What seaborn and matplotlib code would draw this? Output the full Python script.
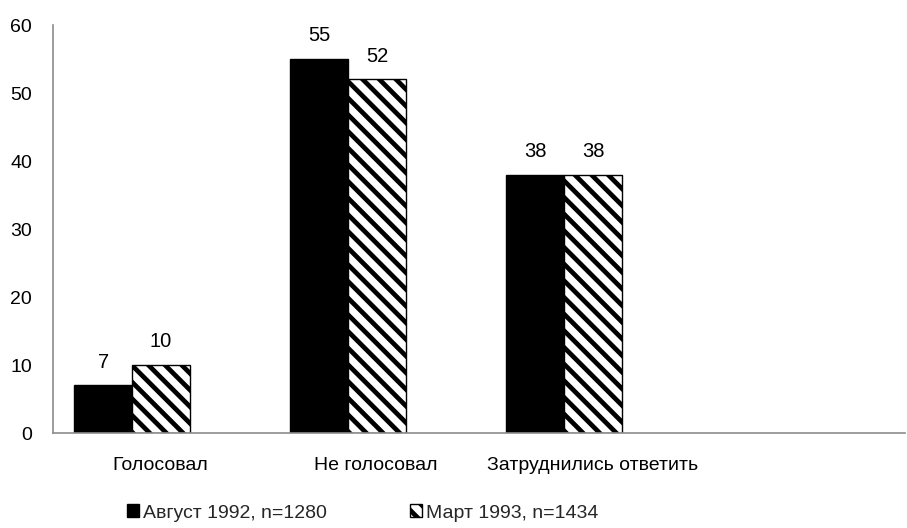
import matplotlib
matplotlib.use("Agg")
import matplotlib.pyplot as plt
import matplotlib.transforms as mtransforms
from matplotlib.patches import Patch
import seaborn as sns
import pandas as pd

# data
categories = ['Голосовал', 'Не голосовал', 'Затруднились ответить']
series = ['Август 1992, n=1280', 'Март 1993, n=1434']
aug_1992 = [7, 55, 38]
mar_1993 = [10, 52, 38]

df = pd.DataFrame({
    'cat': categories * 2,
    'series': [series[0]] * 3 + [series[1]] * 3,
    'value': aug_1992 + mar_1993,
})

sns.set_theme(style='white')
plt.rcParams['font.family'] = ['Liberation Sans', 'DejaVu Sans']
plt.rcParams['hatch.linewidth'] = 3.4
plt.rcParams['hatch.color'] = 'black'

fig = plt.figure(figsize=(9.07, 5.28), dpi=100)
ax = fig.add_axes([53 / 907, 95 / 528, 852 / 907, 408 / 528])

sns.barplot(data=df, x='cat', y='value', hue='series', order=categories,
            hue_order=series, palette=['black', 'white'], width=0.537,
            gap=0, edgecolor='black', linewidth=1, saturation=1,
            legend=False, ax=ax)

for bar in ax.containers[1]:
    bar.set_hatch('\\\\')

for cont in ax.containers:
    ax.bar_label(cont, fmt='%d', padding=10, fontsize=14.5, color='black')

ax.set_xlim(-0.366, 3.578)
ax.set_ylim(0, 60)
ax.set_yticks(range(0, 61, 10))
ax.set_xlabel('')
ax.set_ylabel('')
ax.tick_params(axis='both', length=0, labelsize=14, colors='black')
ax.tick_params(axis='y', pad=15)
ax.tick_params(axis='x', pad=17)

# category labels sit a bit right of the bar pairs
shift = mtransforms.ScaledTranslation(0.28, 0, fig.dpi_scale_trans)
for lbl in ax.get_xticklabels():
    lbl.set_transform(lbl.get_transform() + shift)

for side in ['top', 'right']:
    ax.spines[side].set_visible(False)
for side in ['left', 'bottom']:
    ax.spines[side].set_color('#8c8c8c')
    ax.spines[side].set_linewidth(1.2)

handles = [
    Patch(facecolor='black', edgecolor='black', label=series[0]),
    Patch(facecolor='white', edgecolor='black', hatch='\\\\', label=series[1]),
]
fig.legend(handles=handles, loc='center left', bbox_to_anchor=(127 / 907, 1 - 513 / 528),
           ncol=2, frameon=False, fontsize=14, handlelength=0.6, handleheight=0.6,
           handletextpad=0.2, columnspacing=4.3, borderaxespad=0, borderpad=0)

fig.savefig('out.png', dpi=100)
